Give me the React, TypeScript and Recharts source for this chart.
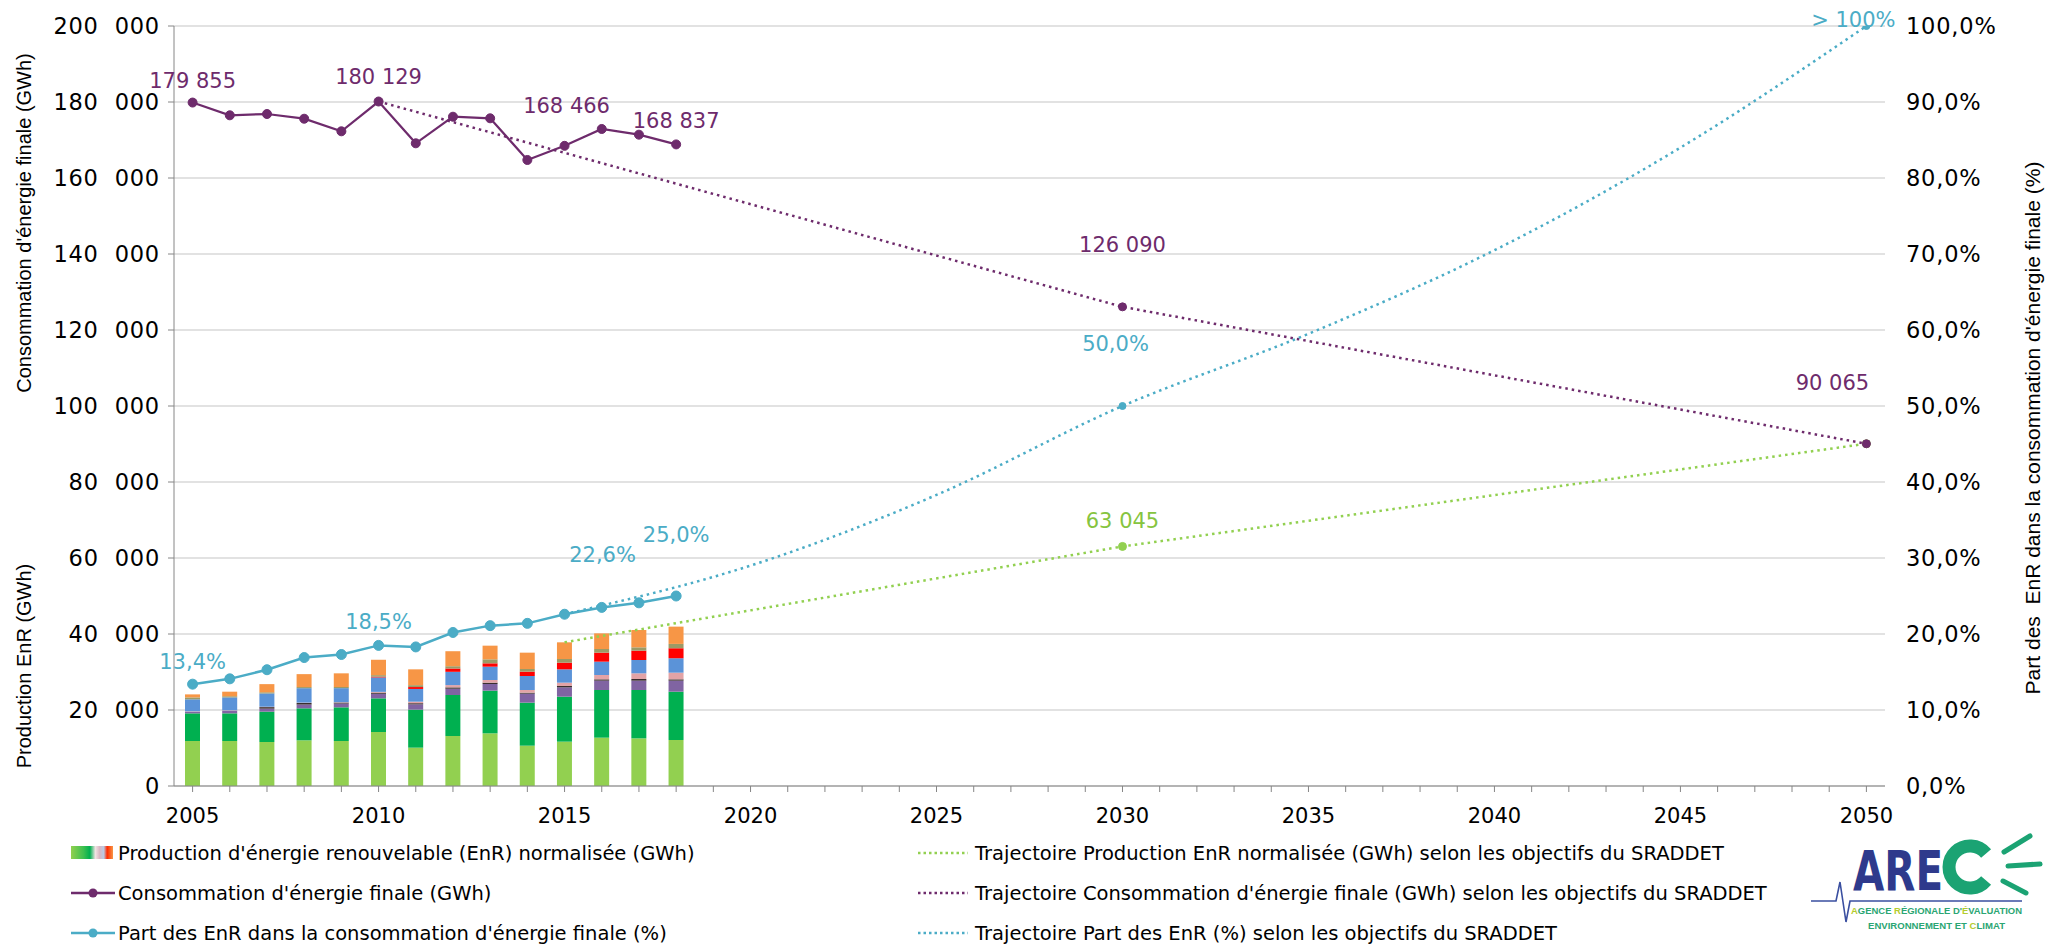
import { Bar, CartesianGrid, ComposedChart, LabelList, Line, XAxis, YAxis } from "recharts";

// x axis: one category per year, labels every 5 years
const years = [
  2005, 2006, 2007, 2008, 2009, 2010, 2011, 2012, 2013, 2014, 2015, 2016, 2017, 2018, 2019, 2020,
  2021, 2022, 2023, 2024, 2025, 2026, 2027, 2028, 2029, 2030, 2031, 2032, 2033, 2034, 2035, 2036,
  2037, 2038, 2039, 2040, 2041, 2042, 2043, 2044, 2045, 2046, 2047, 2048, 2049, 2050,
];
const histYears = [2005, 2006, 2007, 2008, 2009, 2010, 2011, 2012, 2013, 2014, 2015, 2016, 2017, 2018];

// EnR production by source (GWh), stacked from bottom to top
const hydraulique = [11840, 11840, 11580, 12020, 11840, 14210, 10090, 13160, 13860, 10610, 11670, 12720, 12540, 12110];
const boisEnergie = [7280, 7280, 7980, 8420, 8860, 8860, 10000, 10790, 11230, 11320, 11840, 12540, 12720, 12710];
const pompesChaleur = [440, 700, 800, 1000, 1000, 1200, 1400, 1650, 1750, 2370, 2450, 2460, 2460, 2900];
const biogaz = [0, 0, 400, 400, 250, 300, 300, 350, 350, 260, 360, 350, 440, 350];
const dechets = [100, 100, 100, 100, 100, 200, 400, 600, 700, 700, 870, 1140, 1490, 1750];
const eolien = [3150, 3400, 3500, 3800, 3700, 3800, 3350, 3500, 3510, 3690, 3510, 3510, 3510, 3800];
const photovoltaique = [0, 0, 0, 0, 0, 200, 500, 870, 880, 1140, 1760, 2370, 2450, 2630];
const solaireThermique = [500, 300, 300, 300, 300, 400, 500, 600, 1050, 700, 960, 960, 880, 1140];
const autresEnr = [800, 1200, 2150, 3400, 3600, 4050, 4160, 3950, 3600, 4300, 4390, 4120, 4560, 4550];

// final energy consumption (GWh) and EnR share (%)
const consommation = [179855, 176500, 176840, 175600, 172290, 180129, 169130, 176130, 175710, 164740, 168466, 172900, 171400, 168837];
const partEnr = [13.4, 14.1, 15.3, 16.9, 17.3, 18.5, 18.3, 20.2, 21.1, 21.4, 22.6, 23.5, 24.1, 25.0];

// SRADDET trajectories
const trajProdYears = [2015, 2030, 2050];
const trajProdValues = [37810, 63045, 90065];
const trajConsoYears = [2010, 2030, 2050];
const trajConsoValues = [180129, 126090, 90065];
const trajPartYears = [2015, 2020, 2025, 2030, 2035, 2040, 2045, 2050];
const trajPartValues = [22.6, 29.0, 38.3, 50.0, 59.5, 70.5, 84.0, 100];

const leftTicks = [0, 20000, 40000, 60000, 80000, 100000, 120000, 140000, 160000, 180000, 200000];
const rightTicks = [0, 10, 20, 30, 40, 50, 60, 70, 80, 90, 100];

const PURPLE = "#6E2B6C";
const BLUE = "#4BACC6";
const GREEN = "#92D050";
const GREEN_LABEL = "#86C440";
const FONT = "DejaVu Sans";

const stackSeries = [
  { key: "hydraulique", values: hydraulique, color: "#92D050" },
  { key: "boisEnergie", values: boisEnergie, color: "#00B050" },
  { key: "pompesChaleur", values: pompesChaleur, color: "#8064A2" },
  { key: "biogaz", values: biogaz, color: "#3A2E2E" },
  { key: "dechets", values: dechets, color: "#E2A3A6" },
  { key: "eolien", values: eolien, color: "#5B93D8" },
  { key: "photovoltaique", values: photovoltaique, color: "#FF0000" },
  { key: "solaireThermique", values: solaireThermique, color: "#9C9A66" },
  { key: "autresEnr", values: autresEnr, color: "#F79646" },
];

const pick = (ys: number[], vs: number[], year: number) => {
  const i = ys.indexOf(year);
  return i >= 0 ? vs[i] : null;
};

const rows = years.map((year) => {
  const row: Record<string, number | null> = { year };
  stackSeries.forEach((s) => {
    row[s.key] = pick(histYears, s.values, year);
  });
  row.conso = pick(histYears, consommation, year);
  row.part = pick(histYears, partEnr, year);
  row.trajProd = pick(trajProdYears, trajProdValues, year);
  row.trajConso = pick(trajConsoYears, trajConsoValues, year);
  row.trajPart = pick(trajPartYears, trajPartValues, year);
  return row;
});

const gwh = (v: number) => String(Math.round(v)).replace(/\B(?=(\d{3})+(?!\d))/g, " ");
const pct = (v: number) => (v >= 100 ? "> 100%" : v.toFixed(1).replace(".", ",") + "%");

// label offsets (dx, dy of baseline) relative to the point, per year
const consoLabelPos: Record<number, [number, number]> = { 2005: [0, -15], 2010: [0, -18], 2015: [2, -33], 2018: [0, -16] };
const partLabelPos: Record<number, [number, number]> = { 2005: [0, -15], 2010: [0, -16], 2015: [38, -52], 2018: [0, -54] };
const trajConsoLabelPos: Record<number, [number, number]> = { 2030: [0, -55], 2050: [-34, -54] };
const trajProdLabelPos: Record<number, [number, number]> = { 2030: [0, -18] };
const trajPartLabelPos: Record<number, [number, number]> = { 2030: [-7, -55], 2050: [-13, 1] };

const makeLabel =
  (color: string, pos: Record<number, [number, number]>, fmt: (v: number) => string) => (props: any) => {
    const x = props.x ?? props.viewBox?.x;
    const y = props.y ?? props.viewBox?.y;
    const year = years[props.index];
    const off = pos[year];
    if (!off || props.value == null || x == null || y == null) return null;
    return (
      <text
        key={`lbl-${color}-${year}`}
        x={x + off[0]}
        y={y + off[1]}
        fill={color}
        fontSize={21}
        fontFamily={FONT}
        textAnchor="middle"
      >
        {fmt(Number(props.value))}
      </text>
    );
  };

const makeDot = (color: string, r: number, only?: number[]) => (props: any) => {
  const { cx, cy, payload, index } = props;
  if (cx == null || cy == null || payload == null || (only && !only.includes(payload.year))) {
    return <g key={`dot-${color}-${index}`} />;
  }
  return <circle key={`dot-${color}-${index}`} cx={cx} cy={cy} r={r} fill={color} stroke={color} strokeWidth={1} />;
};

const legendLeft = [
  { kind: "bars", color: "", label: "Production d'énergie renouvelable (EnR) normalisée (GWh)" },
  { kind: "line", color: PURPLE, label: "Consommation d'énergie finale (GWh)" },
  { kind: "line", color: BLUE, label: "Part des EnR dans la consommation d'énergie finale (%)" },
];
const legendRight = [
  { color: GREEN, label: "Trajectoire Production EnR normalisée (GWh) selon les objectifs du SRADDET" },
  { color: PURPLE, label: "Trajectoire Consommation d'énergie finale (GWh) selon les objectifs du SRADDET" },
  { color: BLUE, label: "Trajectoire Part des EnR (%) selon les objectifs du SRADDET" },
];
const legendRows = [853, 893, 933];

function Overlay() {
  return (
    <svg width={2047} height={946} style={{ position: "absolute", left: 0, top: 0, pointerEvents: "none" }}>
      <defs>
        <linearGradient id="enrSwatch" x1="0" y1="0" x2="1" y2="0">
          <stop offset="0%" stopColor="#92D050" />
          <stop offset="30%" stopColor="#3CC050" />
          <stop offset="45%" stopColor="#00B050" />
          <stop offset="58%" stopColor="#F2E4E4" />
          <stop offset="68%" stopColor="#D9B8C4" />
          <stop offset="78%" stopColor="#B9CBE6" />
          <stop offset="86%" stopColor="#FF2A00" />
          <stop offset="100%" stopColor="#F79646" />
        </linearGradient>
      </defs>

      {/* axis titles */}
      <g fontFamily="Liberation Sans" fill="#000" textAnchor="middle">
        <text fontSize={20} transform="translate(31,223) rotate(-90)">Consommation d'énergie finale (GWh)</text>
        <text fontSize={20} transform="translate(31,666) rotate(-90)">Production EnR (GWh)</text>
        <text fontSize={21} transform="translate(2040,428) rotate(-90)">{"Part des\u00a0 EnR dans la consommation d'énergie finale (%)"}</text>
      </g>

      {/* legend */}
      <g fontFamily={FONT} fontSize={19.5} fill="#000">
        {legendLeft.map((item, i) => {
          const cy = legendRows[i];
          return (
            <g key={item.label}>
              {item.kind === "bars" ? (
                <rect x={71} y={cy - 7} width={42} height={13} fill="url(#enrSwatch)" />
              ) : (
                <g>
                  <line x1={71} x2={115} y1={cy} y2={cy} stroke={item.color} strokeWidth={2.5} />
                  <circle cx={93} cy={cy} r={4.5} fill={item.color} />
                </g>
              )}
              <text x={118} y={cy + 7}>{item.label}</text>
            </g>
          );
        })}
        {legendRight.map((item, i) => {
          const cy = legendRows[i];
          return (
            <g key={item.label}>
              <line x1={918} x2={968} y1={cy} y2={cy} stroke={item.color} strokeWidth={2.5} strokeDasharray="2.5 3" />
              <text x={975} y={cy + 7}>{item.label}</text>
            </g>
          );
        })}
      </g>

      {/* AREC logo */}
      <g>
        <path d="M1811 901 H1836 L1840 882 L1846 922 L1850 901 H2022" fill="none" stroke="#3A4FA0" strokeWidth={1.6} />
        <text x={1853} y={890} fontFamily="DejaVu Sans" fontWeight="bold" fontSize={56} fill="#2E3A8C" textLength={90} lengthAdjust="spacingAndGlyphs">
          ARE
        </text>
        <path
          d="M 1986.1 853.5 A 21 21 0 1 0 1986.1 880.5"
          fill="none"
          stroke="#1BA373"
          strokeWidth={13}
        />
        <g stroke="#1BA373" strokeWidth={5} strokeLinecap="round">
          <line x1={2004} y1={852} x2={2030} y2={836} />
          <line x1={2008} y1={866} x2={2040} y2={864} />
          <line x1={2003} y1={881} x2={2026} y2={893} />
        </g>
        <text x={1851} y={914} fontFamily="Liberation Sans" fontWeight="bold" fontSize={9.5} fill="#2BA673" textLength={171} lengthAdjust="spacingAndGlyphs">
          <tspan fill="#B5CC2E">A</tspan>GENCE <tspan fill="#B5CC2E">R</tspan>ÉGIONALE D'<tspan fill="#B5CC2E">É</tspan>VALUATION
        </text>
        <text x={1868} y={929} fontFamily="Liberation Sans" fontWeight="bold" fontSize={9.5} fill="#2BA673" textLength={137} lengthAdjust="spacingAndGlyphs">
          ENVIRONNEMENT ET <tspan fill="#B5CC2E">C</tspan>LIMAT
        </text>
      </g>
    </svg>
  );
}

export default function App() {
  const tickStyle = { fontSize: 21, fill: "#000", fontFamily: FONT };
  const yTickStyle = { fontSize: 22.5, fill: "#000", fontFamily: FONT, letterSpacing: 0.8 };
  return (
    <div style={{ position: "absolute", left: 0, top: 0, width: 2047, height: 946, background: "#fff" }}>
      <ComposedChart width={2047} height={946} data={rows} margin={{ top: 26, right: 0, bottom: 120, left: 0 }}>
        <CartesianGrid yAxisId="left" vertical={false} stroke="#D9D9D9" strokeWidth={1.5} />
        <XAxis
          dataKey="year"
          type="number"
          domain={[2004.5, 2050.5]}
          allowDataOverflow
          ticks={years}
          interval={0}
          tickFormatter={(v: number) => (v % 5 === 0 ? String(v) : "")}
          height={40}
          tickSize={6}
          tickMargin={16}
          stroke="#868686"
          tick={tickStyle}
        />
        <YAxis
          yAxisId="left"
          width={174}
          domain={[0, 200000]}
          allowDataOverflow
          ticks={leftTicks}
          interval={0}
          tickFormatter={(v: number) => (v === 0 ? "0" : `${v / 1000}\u00a0\u00a0000`)}
          tickSize={6}
          tickMargin={8}
          stroke="#868686"
          tick={yTickStyle}
        />
        <YAxis
          yAxisId="right"
          orientation="right"
          width={162}
          domain={[0, 100]}
          allowDataOverflow
          ticks={rightTicks}
          interval={0}
          tickFormatter={(v: number) => v.toFixed(1).replace(".", ",") + "%"}
          axisLine={false}
          tickLine={false}
          tickSize={0}
          tickMargin={21}
          tick={yTickStyle}
        />

        {stackSeries.map((s) => (
          <Bar
            key={s.key}
            yAxisId="left"
            dataKey={s.key}
            stackId="enr"
            fill={s.color}
            barSize={15}
            isAnimationActive={false}
          />
        ))}

        <Line
          yAxisId="left"
          dataKey="trajProd"
          stroke={GREEN}
          strokeWidth={2.5}
          strokeDasharray="2.5 4"
          connectNulls
          dot={makeDot(GREEN, 4, [2030, 2050])}
          activeDot={false}
          isAnimationActive={false}
        >
          <LabelList dataKey="trajProd" content={makeLabel(GREEN_LABEL, trajProdLabelPos, gwh)} />
        </Line>
        <Line
          yAxisId="left"
          dataKey="trajConso"
          stroke={PURPLE}
          strokeWidth={2.5}
          strokeDasharray="2.5 4"
          connectNulls
          dot={makeDot(PURPLE, 4, [2030, 2050])}
          activeDot={false}
          isAnimationActive={false}
        >
          <LabelList dataKey="trajConso" content={makeLabel(PURPLE, trajConsoLabelPos, gwh)} />
        </Line>
        <Line
          yAxisId="right"
          dataKey="trajPart"
          type="monotone"
          stroke={BLUE}
          strokeWidth={2.5}
          strokeDasharray="2.5 4"
          connectNulls
          dot={makeDot(BLUE, 3.5, [2030, 2050])}
          activeDot={false}
          isAnimationActive={false}
        >
          <LabelList dataKey="trajPart" content={makeLabel(BLUE, trajPartLabelPos, pct)} />
        </Line>

        <Line
          yAxisId="left"
          dataKey="conso"
          stroke={PURPLE}
          strokeWidth={2.25}
          dot={makeDot(PURPLE, 4.5)}
          activeDot={false}
          isAnimationActive={false}
        >
          <LabelList dataKey="conso" content={makeLabel(PURPLE, consoLabelPos, gwh)} />
        </Line>
        <Line
          yAxisId="right"
          dataKey="part"
          stroke={BLUE}
          strokeWidth={2.5}
          dot={makeDot(BLUE, 5)}
          activeDot={false}
          isAnimationActive={false}
        >
          <LabelList dataKey="part" content={makeLabel(BLUE, partLabelPos, pct)} />
        </Line>
      </ComposedChart>
      <Overlay />
    </div>
  );
}
